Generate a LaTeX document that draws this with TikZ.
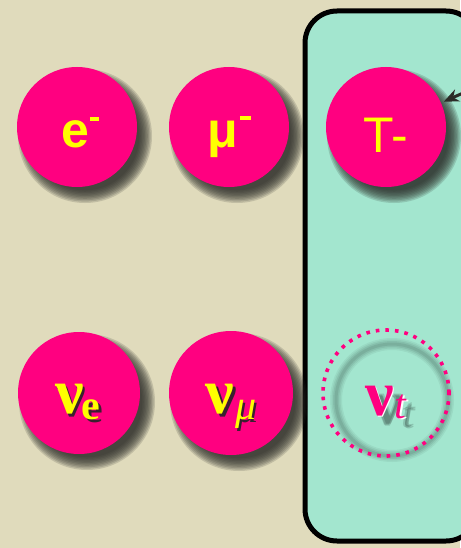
\documentclass[tikz,border=0pt]{standalone}
\usepackage{fontspec}
\setmainfont{Liberation Sans}
\newfontfamily\grserif{Liberation Serif}
\usetikzlibrary{arrows.meta,calc}
\definecolor{bgc}{HTML}{E0DBBC}
\definecolor{aqua}{HTML}{A3E6CF}
\definecolor{hot}{HTML}{FF0080}
\definecolor{yel}{HTML}{FFFF00}
\definecolor{shad}{HTML}{3A2030}
\definecolor{dsh}{HTML}{2C2C28}
\newcommand\myballshadow[2]{%
  \foreach \k in {0,...,9}{%
    \pgfmathsetmacro\rr{#2+7-\k*1.4}%
    \fill[dsh,opacity=0.17] ($(#1)+(8,9)$) circle[radius=\rr pt];}}
\tikzset{
  ball/.style={circle, fill=hot, minimum size=120pt, inner sep=0pt},
  lbl/.style={text=yel, inner sep=0pt},
  nu/.style={inner sep=0pt, font=\grserif\bfseries\fontsize{64}{64}\selectfont},
}
\begin{document}
\begin{tikzpicture}[x=1pt,y=-1pt]
\fill[bgc] (0,0) rectangle (460,548);
\useasboundingbox (0,0) rectangle (460,548);
% panel
\draw[line width=5pt, fill=aqua, rounded corners=32pt] (305,11) rectangle (478,541);
% shadows
\coordinate (ce) at (77,127);
\coordinate (cm) at (229,127);
\coordinate (ct) at (386,127);
\coordinate (cne) at (79,393);
\coordinate (cnm) at (231,393);
\coordinate (cnt) at (386,393);
\myballshadow{ce}{60}
\myballshadow{cm}{60}
\myballshadow{ct}{60}
\myballshadow{cne}{61}
\myballshadow{cnm}{62}
% balls
\node[ball] (e) at (ce) {};
\node[ball] (mu) at (cm) {};
\node[ball] (tau) at (ct) {};
\node[ball, minimum size=122pt] (ne) at (cne) {};
\node[ball, minimum size=124pt] (nm) at (cnm) {};
% tau neutrino ghost ring shadow
\foreach \w/\o in {12/0.05,9/0.06,6/0.07,3/0.08}
  \draw[black,opacity=\o,line width=\w pt] ($(cnt)+(6,7)$) circle[radius=56pt];
\node[circle, draw=hot, line width=3.6pt, dash pattern=on 3.6pt off 6pt, minimum size=126pt, inner sep=0pt] (nt) at (cnt) {};
% labels top
\node[lbl, anchor=base, font=\bfseries\fontsize{50}{50}\selectfont] (le) at (80,148)
  {e\hspace{1pt}\raisebox{27pt}{\rule{9pt}{3.5pt}}};
\node[lbl, anchor=base, font=\bfseries\fontsize{50}{50}\selectfont] (lm) at (229,148)
  {μ\hspace{2pt}\raisebox{28pt}{\rule{11pt}{3.5pt}}};
\node[lbl, anchor=base, font=\fontsize{50}{50}\selectfont] (lt) at (386,153) {T-};
% neutrino labels
\node[nu, text=shad, anchor=base] at (80.5,416) {ν\hspace{-2pt}\raisebox{-6pt}{\fontsize{42}{42}\selectfont e}};
\node[nu, text=yel, anchor=base] (lne) at (78,413) {ν\hspace{-2pt}\raisebox{-6pt}{\fontsize{42}{42}\selectfont e}};
\node[nu, text=shad, anchor=base] at (233.5,416) {ν\hspace{1pt}\raisebox{-6pt}{\mdseries\itshape\fontsize{42}{42}\selectfont μ}};
\node[nu, text=yel, anchor=base] (lnm) at (231,413) {ν\hspace{1pt}\raisebox{-6pt}{\mdseries\itshape\fontsize{42}{42}\selectfont μ}};
\foreach \dx/\dy in {7/9,8.5/10,9/8.5}
  \node[nu, text=black, opacity=0.15, anchor=base] at (386+\dx,415+\dy) {ν\hspace{1pt}\raisebox{-3pt}{\mdseries\itshape\fontsize{42}{42}\selectfont t}};
\node[nu, text=white, anchor=base] at (387.5,416) {ν\hspace{1pt}\raisebox{-3pt}{\mdseries\itshape\fontsize{42}{42}\selectfont t}};
\node[nu, text=hot, anchor=base] (lnt) at (386,415) {ν\hspace{1pt}\raisebox{-3pt}{\mdseries\itshape\fontsize{42}{42}\selectfont t}};
% arrow
\coordinate (astart) at (470,90);
\draw[draw=dsh, line width=3pt, -{Stealth[length=15pt,width=13pt]}, shorten >=3pt] (astart) -- (tau);
\end{tikzpicture}
\end{document}
